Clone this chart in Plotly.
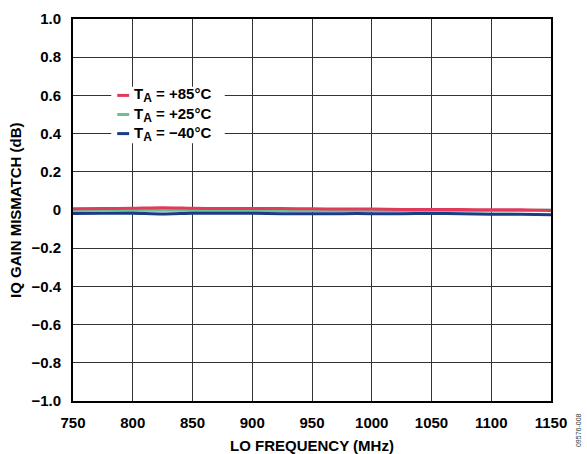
import plotly.graph_objects as go

freq_mhz = [750, 775, 800, 825, 850, 875, 900, 925, 950, 975, 1000, 1025, 1050, 1075, 1100, 1125, 1150]
mismatch_p85 = [0.006, 0.008, 0.009, 0.012, 0.009, 0.008, 0.008, 0.008, 0.006, 0.005, 0.005, 0.003, 0.002, 0.002, 0.001, 0.001, -0.003]
mismatch_p25 = [-0.002, 0.0, -0.002, 0.0, -0.002, -0.003, -0.003, -0.003, -0.004, -0.004, -0.004, -0.004, -0.004, -0.004, -0.004, -0.003, 0.0]
mismatch_m40 = [-0.018, -0.017, -0.017, -0.021, -0.017, -0.017, -0.017, -0.019, -0.020, -0.019, -0.019, -0.019, -0.018, -0.019, -0.022, -0.022, -0.025]

series_names = [
    'T<sub><span style="font-size:12px">A</span></sub> = +85°C',
    'T<sub><span style="font-size:12px">A</span></sub> = +25°C',
    'T<sub><span style="font-size:12px">A</span></sub> = −40°C',
]
series_colors = ["#e23a5c", "#6cc193", "#1b3b85"]
series_values = [mismatch_p85, mismatch_p25, mismatch_m40]

y_ticks = [1.0, 0.8, 0.6, 0.4, 0.2, 0, -0.2, -0.4, -0.6, -0.8, -1.0]
y_ticktext = ["1.0", "0.8", "0.6", "0.4", "0.2", "0", "−0.2", "−0.4", "−0.6", "−0.8", "−1.0"]
x_ticks = [750, 800, 850, 900, 950, 1000, 1050, 1100, 1150]

FONT = "Liberation Sans, Arial, sans-serif"
FS = 15

fig = go.Figure()
# draw order: green, red, blue
for idx in [1, 0, 2]:
    fig.add_trace(go.Scatter(
        x=freq_mhz, y=series_values[idx], mode="lines",
        line=dict(color=series_colors[idx], width=3, shape="spline", smoothing=0.6),
        name=series_names[idx], showlegend=False, hoverinfo="skip"))

# custom legend with short line samples
leg_y = [0.6, 0.5, 0.4]
fig.add_shape(type="rect", xref="x", yref="y", x0=782, x1=877, y0=0.35, y1=0.645,
              fillcolor="white", line=dict(width=0), layer="above")
for i in range(3):
    fig.add_shape(type="line", xref="x", yref="y", x0=787, x1=797, y0=leg_y[i], y1=leg_y[i],
                  line=dict(color=series_colors[i], width=3), layer="above")
    fig.add_annotation(x=799.5, y=leg_y[i], xref="x", yref="y", text="<b>" + series_names[i] + "</b>",
                       showarrow=False, xanchor="left", yanchor="middle",
                       font=dict(family=FONT, size=FS, color="black"))

# axis titles as annotations
fig.add_annotation(x=0.5, y=-0.1178, xref="paper", yref="paper", text="<b>LO FREQUENCY (MHz)</b>",
                   showarrow=False, xanchor="center", yanchor="middle",
                   font=dict(family=FONT, size=FS, color="black"))
fig.add_annotation(x=-0.1213, y=0.5, xref="paper", yref="paper", text="<b>IQ GAIN MISMATCH (dB)</b>",
                   showarrow=False, xanchor="center", yanchor="middle", textangle=-90,
                   font=dict(family=FONT, size=FS, color="black"))

fig.add_annotation(x=1.0565, y=-0.076, xref="paper", yref="paper", text="09576-008",
                   showarrow=False, textangle=-90, xanchor="center", yanchor="middle",
                   font=dict(family=FONT, size=7, color="#333"))

fig.update_layout(
    width=587, height=454,
    margin=dict(l=73, r=36, t=19, b=53, autoexpand=False),
    paper_bgcolor="white", plot_bgcolor="white",
    font=dict(family=FONT, color="black"),
    showlegend=False,
)
fig.update_xaxes(
    range=[750, 1150], tickvals=x_ticks, ticktext=["<b>%d</b>" % v for v in x_ticks],
    tickfont=dict(family=FONT, size=FS, color="black"),
    showgrid=True, gridcolor="#333", gridwidth=1,
    showline=True, linecolor="black", linewidth=2, mirror=True,
    ticks="outside", ticklen=7, tickcolor="rgba(0,0,0,0)", zeroline=False,
    automargin=False,
)
fig.update_yaxes(
    range=[-1.0, 1.0], tickvals=y_ticks, ticktext=["<b>%s</b>" % t for t in y_ticktext],
    tickfont=dict(family=FONT, size=FS, color="black"),
    showgrid=True, gridcolor="#333", gridwidth=1,
    showline=True, linecolor="black", linewidth=2, mirror=True,
    ticks="outside", ticklen=7, tickcolor="rgba(0,0,0,0)", zeroline=False,
    automargin=False,
)

fig.write_html("out.html", config={"displayModeBar": False, "staticPlot": True},
               post_script="document.body.style.margin='0px';document.body.style.overflow='hidden';")
